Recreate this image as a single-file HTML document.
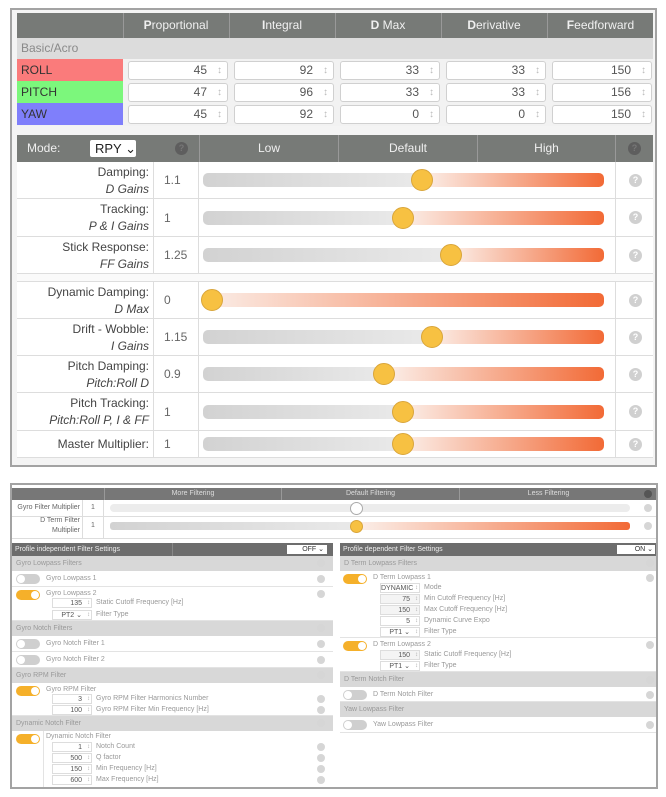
<!DOCTYPE html>
<html><head><meta charset="utf-8"><style>
*{box-sizing:border-box;margin:0;padding:0}
body{width:666px;height:797px;background:#fff;font-family:"Liberation Sans",sans-serif;position:relative;overflow:hidden;color:#444}
div,span{position:absolute}
.frame{border:2px solid #a3a3a3;background:#f4f4f4}
.hd{background:#777a77;color:#f0f0f0;font-size:12px;text-align:center;line-height:25px}
.hd b{position:static}
.inp{background:#fff;border:1px solid #d0d0d0;border-radius:3px;height:19px;width:100px;font-size:12px;text-align:right;padding-right:20px;line-height:17px;color:#555}
.inp:after{content:"\2195";position:absolute;right:5px;top:0;font-size:10px;color:#bbb}
.row{left:17px;width:636px;background:#fff;border-bottom:1px solid #ddd}
.lab{left:0;width:132px;text-align:right;font-size:12px;color:#444;line-height:17px}
.lab i{font-style:italic}
.vc{left:136px;width:46px;border-left:1px solid #ddd;border-right:1px solid #ddd;top:0;bottom:0;font-size:12px;color:#666;padding-left:10px}
.trk{left:186px;width:401px;height:14px;border-radius:5px}
.th{width:22px;height:22px;border-radius:50%;background:#f7c142;border:1px solid #d9a53a}
.hl{width:13px;height:13px;border-radius:50%;background:#d0d0d0;color:#fff;font-size:9px;text-align:center;line-height:13px;font-weight:bold}
.s{font-size:7px;color:#999;white-space:nowrap}
.sec{background:#d8d8d8;height:15px;font-size:7px;color:#999;line-height:15px;padding-left:4px}
.it{background:#fff;border-bottom:1px solid #e3e3e3}
.tg{width:24px;height:10px;border-radius:5px;background:#cfcfcf}
.tg:after{content:"";position:absolute;left:1px;top:1px;width:8px;height:8px;border-radius:50%;background:#fff}
.tg.on{background:#f5b02a}
.tg.on:after{left:15px}
.si{background:#fff;border:1px solid #ddd;height:10px;width:40px;font-size:7px;text-align:right;padding-right:9px;line-height:9px;color:#555}
.si:after{content:"\2195";position:absolute;right:1px;top:0;font-size:6px;color:#aaa}
.sh{width:8px;height:8px;border-radius:50%;background:#d6d6d6}
</style></head><body>

<!-- TOP PANEL -->
<div class="frame" style="left:10px;top:8px;width:647px;height:459px"></div>
<div class="hd" style="left:17px;top:13px;width:636px;height:25px"></div>
<div class="hd" style="left:123px;top:13px;width:105px;height:25px;border-left:1px solid #999"><b>P</b>roportional</div>
<div class="hd" style="left:229px;top:13px;width:105px;height:25px;border-left:1px solid #999"><b>I</b>ntegral</div>
<div class="hd" style="left:335px;top:13px;width:105px;height:25px;border-left:1px solid #999"><b>D</b> Max</div>
<div class="hd" style="left:441px;top:13px;width:105px;height:25px;border-left:1px solid #999"><b>D</b>erivative</div>
<div class="hd" style="left:547px;top:13px;width:106px;height:25px;border-left:1px solid #999"><b>F</b>eedforward</div>
<div style="left:17px;top:38px;width:636px;height:21px;background:#dcdcdc;font-size:12px;color:#8a8a8a;line-height:21px;padding-left:4px">Basic/Acro</div>
<div style="left:17px;top:59px;width:636px;height:67px;background:#f2f2f2"></div>
<div style="left:17px;top:59px;width:106px;height:22px;background:#fa7b7b;font-size:12px;line-height:22px;padding-left:4px;color:#333">ROLL</div>
<div style="left:17px;top:81px;width:106px;height:22px;background:#7cf77c;font-size:12px;line-height:22px;padding-left:4px;color:#333">PITCH</div>
<div style="left:17px;top:103px;width:106px;height:22px;background:#7f7ffb;font-size:12px;line-height:22px;padding-left:4px;color:#333">YAW</div>

<div class="inp" style="left:128px;top:61px">45</div><div class="inp" style="left:234px;top:61px">92</div><div class="inp" style="left:340px;top:61px">33</div><div class="inp" style="left:446px;top:61px">33</div><div class="inp" style="left:552px;top:61px">150</div>
<div class="inp" style="left:128px;top:83px">47</div><div class="inp" style="left:234px;top:83px">96</div><div class="inp" style="left:340px;top:83px">33</div><div class="inp" style="left:446px;top:83px">33</div><div class="inp" style="left:552px;top:83px">156</div>
<div class="inp" style="left:128px;top:105px">45</div><div class="inp" style="left:234px;top:105px">92</div><div class="inp" style="left:340px;top:105px">0</div><div class="inp" style="left:446px;top:105px">0</div><div class="inp" style="left:552px;top:105px">150</div>

<!-- slider table -->
<div class="hd" style="left:17px;top:135px;width:636px;height:27px;line-height:27px;text-align:left;padding-left:10px">Mode:</div>
<div style="left:90px;top:140px;width:46px;height:17px;background:#fff;border-radius:2px;font-size:13px;line-height:17px;color:#222;padding-left:5px">RPY &#8964;</div>
<div class="hl" style="left:175px;top:142px;background:#5e5e5e;color:#777">?</div>
<div class="hd" style="left:199px;top:135px;width:139px;height:27px;line-height:27px;border-left:1px solid #999">Low</div>
<div class="hd" style="left:338px;top:135px;width:139px;height:27px;line-height:27px;border-left:1px solid #999">Default</div>
<div class="hd" style="left:477px;top:135px;width:138px;height:27px;line-height:27px;border-left:1px solid #999">High</div>
<div class="hd" style="left:615px;top:135px;width:38px;height:27px;border-left:1px solid #999"></div>
<div class="hl" style="left:628px;top:142px;background:#5e5e5e;color:#777">?</div>

<div style="left:17px;top:162px;width:636px;height:296px;background:#fff"></div>

<div class="row" style="top:162px;height:37px"><div class="lab" style="top:2px">Damping:<br><i>D Gains</i></div><div class="vc" style="line-height:37px">1.1</div><div class="trk" style="top:11px;background:linear-gradient(90deg,#d2d2d2,#e9e9e9 54%,#fbeee8 55%,#f26a36)"></div><div class="th" style="left:394px;top:7px"></div><div class="hl" style="left:612px;top:12px">?</div><div style="left:598px;top:0;bottom:0;border-left:1px solid #ddd"></div></div>
<div class="row" style="top:199px;height:38px"><div class="lab" style="top:2px">Tracking:<br><i>P &amp; I Gains</i></div><div class="vc" style="line-height:38px">1</div><div class="trk" style="top:12px;background:linear-gradient(90deg,#d2d2d2,#e9e9e9 49%,#fbeee8 50%,#f26a36)"></div><div class="th" style="left:375px;top:8px"></div><div class="hl" style="left:612px;top:12px">?</div><div style="left:598px;top:0;bottom:0;border-left:1px solid #ddd"></div></div>
<div class="row" style="top:237px;height:37px"><div class="lab" style="top:2px">Stick Response:<br><i>FF Gains</i></div><div class="vc" style="line-height:37px">1.25</div><div class="trk" style="top:11px;background:linear-gradient(90deg,#d2d2d2,#e9e9e9 61%,#fbeee8 62%,#f26a36)"></div><div class="th" style="left:423px;top:7px"></div><div class="hl" style="left:612px;top:12px">?</div><div style="left:598px;top:0;bottom:0;border-left:1px solid #ddd"></div></div>
<div style="left:17px;top:274px;width:636px;height:8px;background:#fafafa;border-bottom:1px solid #ddd"></div>
<div class="row" style="top:282px;height:37px"><div class="lab" style="top:2px">Dynamic Damping:<br><i>D Max</i></div><div class="vc" style="line-height:37px">0</div><div class="trk" style="top:11px;background:linear-gradient(90deg,#fbeee8,#f26a36)"></div><div class="th" style="left:184px;top:7px"></div><div class="hl" style="left:612px;top:12px">?</div><div style="left:598px;top:0;bottom:0;border-left:1px solid #ddd"></div></div>
<div class="row" style="top:319px;height:37px"><div class="lab" style="top:2px">Drift - Wobble:<br><i>I Gains</i></div><div class="vc" style="line-height:37px">1.15</div><div class="trk" style="top:11px;background:linear-gradient(90deg,#d2d2d2,#e9e9e9 56%,#fbeee8 57%,#f26a36)"></div><div class="th" style="left:404px;top:7px"></div><div class="hl" style="left:612px;top:12px">?</div><div style="left:598px;top:0;bottom:0;border-left:1px solid #ddd"></div></div>
<div class="row" style="top:356px;height:37px"><div class="lab" style="top:2px">Pitch Damping:<br><i>Pitch:Roll D</i></div><div class="vc" style="line-height:37px">0.9</div><div class="trk" style="top:11px;background:linear-gradient(90deg,#d2d2d2,#e9e9e9 45%,#fbeee8 46%,#f26a36)"></div><div class="th" style="left:356px;top:7px"></div><div class="hl" style="left:612px;top:12px">?</div><div style="left:598px;top:0;bottom:0;border-left:1px solid #ddd"></div></div>
<div class="row" style="top:393px;height:38px"><div class="lab" style="top:2px">Pitch Tracking:<br><i>Pitch:Roll P, I &amp; FF</i></div><div class="vc" style="line-height:38px">1</div><div class="trk" style="top:12px;background:linear-gradient(90deg,#d2d2d2,#e9e9e9 49%,#fbeee8 50%,#f26a36)"></div><div class="th" style="left:375px;top:8px"></div><div class="hl" style="left:612px;top:12px">?</div><div style="left:598px;top:0;bottom:0;border-left:1px solid #ddd"></div></div>
<div class="row" style="top:431px;height:27px"><div class="lab" style="top:5px">Master Multiplier:</div><div class="vc" style="line-height:27px">1</div><div class="trk" style="top:6px;background:linear-gradient(90deg,#d2d2d2,#e9e9e9 49%,#fbeee8 50%,#f26a36)"></div><div class="th" style="left:375px;top:2px"></div><div class="hl" style="left:612px;top:7px">?</div><div style="left:598px;top:0;bottom:0;border-left:1px solid #ddd"></div></div>

<!-- BOTTOM PANEL -->
<div class="frame" style="left:10px;top:483px;width:648px;height:306px;background:#fff"></div>
<div style="left:12px;top:488px;width:644px;height:12px;background:#777;"></div>
<div class="s" style="left:104px;top:488px;width:177px;height:12px;line-height:12px;text-align:center;color:#ddd;border-left:1px solid #999">More Filtering</div>
<div class="s" style="left:281px;top:488px;width:178px;height:12px;line-height:12px;text-align:center;color:#ddd;border-left:1px solid #999">Default Filtering</div>
<div class="s" style="left:459px;top:488px;width:178px;height:12px;line-height:12px;text-align:center;color:#ddd;border-left:1px solid #999">Less Filtering</div>
<div class="sh" style="left:644px;top:490px;background:#555"></div>
<div style="left:12px;top:500px;width:644px;height:17px;border-bottom:1px solid #ddd"></div>
<div class="s" style="left:12px;top:504px;width:68px;text-align:right;color:#666">Gyro Filter Multiplier</div>
<div style="left:82px;top:500px;width:22px;height:38px;border-left:1px solid #ddd;border-right:1px solid #ddd"></div>
<div class="s" style="left:91px;top:504px;color:#666">1</div>
<div style="left:110px;top:504px;width:520px;height:8px;border-radius:4px;background:#ececec"></div>
<div style="left:350px;top:502px;width:13px;height:13px;border-radius:50%;background:#fff;border:1px solid #aaa"></div>
<div class="sh" style="left:644px;top:504px"></div>
<div class="s" style="left:12px;top:516px;width:68px;text-align:right;color:#666;line-height:10px">D Term Filter<br>Multiplier</div>
<div class="s" style="left:91px;top:522px;color:#666">1</div>
<div style="left:110px;top:522px;width:520px;height:8px;border-radius:3px;background:linear-gradient(90deg,#d2d2d2,#e9e9e9 47%,#fbeee8 48%,#f26a36)"></div>
<div style="left:350px;top:520px;width:13px;height:13px;border-radius:50%;background:#f7c142;border:1px solid #d9a53a"></div>
<div class="sh" style="left:644px;top:522px"></div>
<div style="left:12px;top:538px;width:644px;border-bottom:1px solid #ddd"></div>

<!-- left panel -->
<div style="left:12px;top:543px;width:321px;height:13px;background:#6d6d6d"></div>
<div class="s" style="left:15px;top:546px;color:#eee">Profile independent Filter Settings</div>
<div style="left:172px;top:543px;height:13px;border-left:1px solid #888"></div>
<div class="s" style="left:287px;top:545px;width:40px;height:9px;background:#fff;color:#333;text-align:right;padding-right:3px;line-height:9px">OFF &#8964;</div>
<div class="sec" style="left:12px;top:556px;width:321px">Gyro Lowpass Filters</div><div class="sh" style="left:317px;top:559px"></div>
<div class="it" style="left:12px;top:571px;width:321px;height:16px"></div><div class="tg" style="left:16px;top:574px"></div><div class="s" style="left:46px;top:575px">Gyro Lowpass 1</div><div class="sh" style="left:317px;top:575px"></div>
<div class="it" style="left:12px;top:587px;width:321px;height:34px"></div><div class="tg on" style="left:16px;top:590px"></div><div class="s" style="left:46px;top:590px">Gyro Lowpass 2</div><div class="sh" style="left:317px;top:590px"></div>
<div class="si" style="left:52px;top:598px">135</div><div class="s" style="left:96px;top:599px">Static Cutoff Frequency [Hz]</div>
<div class="si" style="left:52px;top:610px">PT2 &#8964;</div><div class="s" style="left:96px;top:611px">Filter Type</div>
<div class="sec" style="left:12px;top:621px;width:321px">Gyro Notch Filters</div><div class="sh" style="left:317px;top:624px"></div>
<div class="it" style="left:12px;top:636px;width:321px;height:16px"></div><div class="tg" style="left:16px;top:639px"></div><div class="s" style="left:46px;top:640px">Gyro Notch Filter 1</div><div class="sh" style="left:317px;top:640px"></div>
<div class="it" style="left:12px;top:652px;width:321px;height:16px"></div><div class="tg" style="left:16px;top:655px"></div><div class="s" style="left:46px;top:656px">Gyro Notch Filter 2</div><div class="sh" style="left:317px;top:656px"></div>
<div class="sec" style="left:12px;top:668px;width:321px">Gyro RPM Filter</div><div class="sh" style="left:317px;top:671px"></div>
<div class="it" style="left:12px;top:683px;width:321px;height:33px"></div><div class="tg on" style="left:16px;top:686px"></div><div class="s" style="left:46px;top:686px">Gyro RPM Filter</div>
<div class="si" style="left:52px;top:694px">3</div><div class="s" style="left:96px;top:695px">Gyro RPM Filter Harmonics Number</div><div class="sh" style="left:317px;top:695px"></div>
<div class="si" style="left:52px;top:705px">100</div><div class="s" style="left:96px;top:706px">Gyro RPM Filter Min Frequency [Hz]</div><div class="sh" style="left:317px;top:706px"></div>
<div class="sec" style="left:12px;top:716px;width:321px">Dynamic Notch Filter</div><div class="sh" style="left:317px;top:719px"></div>
<div class="it" style="left:12px;top:731px;width:321px;height:56px;border:none"></div><div class="tg on" style="left:16px;top:734px"></div><div class="s" style="left:46px;top:733px">Dynamic Notch Filter</div>
<div class="si" style="left:52px;top:742px">1</div><div class="s" style="left:96px;top:743px">Notch Count</div><div class="sh" style="left:317px;top:743px"></div>
<div class="si" style="left:52px;top:753px">500</div><div class="s" style="left:96px;top:754px">Q factor</div><div class="sh" style="left:317px;top:754px"></div>
<div class="si" style="left:52px;top:764px">150</div><div class="s" style="left:96px;top:765px">Min Frequency [Hz]</div><div class="sh" style="left:317px;top:765px"></div>
<div class="si" style="left:52px;top:775px">600</div><div class="s" style="left:96px;top:776px">Max Frequency [Hz]</div><div class="sh" style="left:317px;top:776px"></div>
<div style="left:43px;top:731px;height:56px;border-left:1px solid #e3e3e3"></div>

<!-- right panel -->
<div style="left:340px;top:543px;width:316px;height:13px;background:#6d6d6d"></div>
<div class="s" style="left:343px;top:546px;color:#eee">Profile dependent Filter Settings</div>
<div class="s" style="left:617px;top:545px;width:38px;height:9px;background:#fff;color:#333;text-align:right;padding-right:2px;line-height:9px">ON &#8964;</div>
<div class="sec" style="left:340px;top:556px;width:316px">D Term Lowpass Filters</div><div class="sh" style="left:646px;top:559px"></div>
<div class="it" style="left:340px;top:571px;width:316px;height:67px"></div><div class="tg on" style="left:343px;top:574px"></div><div class="s" style="left:373px;top:574px">D Term Lowpass 1</div><div class="sh" style="left:646px;top:574px"></div>
<div class="si" style="left:380px;top:583px;width:40px">DYNAMIC &#8964;</div><div class="s" style="left:424px;top:584px">Mode</div>
<div class="si" style="left:380px;top:594px;background:#f4f4f4">75</div><div class="s" style="left:424px;top:595px">Min Cutoff Frequency [Hz]</div>
<div class="si" style="left:380px;top:605px;background:#f4f4f4">150</div><div class="s" style="left:424px;top:606px">Max Cutoff Frequency [Hz]</div>
<div class="si" style="left:380px;top:616px">5</div><div class="s" style="left:424px;top:617px">Dynamic Curve Expo</div>
<div class="si" style="left:380px;top:627px">PT1 &#8964;</div><div class="s" style="left:424px;top:628px">Filter Type</div>
<div class="it" style="left:340px;top:638px;width:316px;height:34px"></div><div class="tg on" style="left:343px;top:641px"></div><div class="s" style="left:373px;top:641px">D Term Lowpass 2</div><div class="sh" style="left:646px;top:641px"></div>
<div class="si" style="left:380px;top:650px;background:#f4f4f4">150</div><div class="s" style="left:424px;top:651px">Static Cutoff Frequency [Hz]</div>
<div class="si" style="left:380px;top:661px">PT1 &#8964;</div><div class="s" style="left:424px;top:662px">Filter Type</div>
<div class="sec" style="left:340px;top:672px;width:316px">D Term Notch Filter</div><div class="sh" style="left:646px;top:676px"></div>
<div class="it" style="left:340px;top:687px;width:316px;height:15px"></div><div class="tg" style="left:343px;top:690px"></div><div class="s" style="left:373px;top:691px">D Term Notch Filter</div><div class="sh" style="left:646px;top:691px"></div>
<div class="sec" style="left:340px;top:702px;width:316px">Yaw Lowpass Filter</div>
<div class="it" style="left:340px;top:717px;width:316px;height:16px"></div><div class="tg" style="left:343px;top:720px"></div><div class="s" style="left:373px;top:721px">Yaw Lowpass Filter</div><div class="sh" style="left:646px;top:721px"></div>
</body></html>
